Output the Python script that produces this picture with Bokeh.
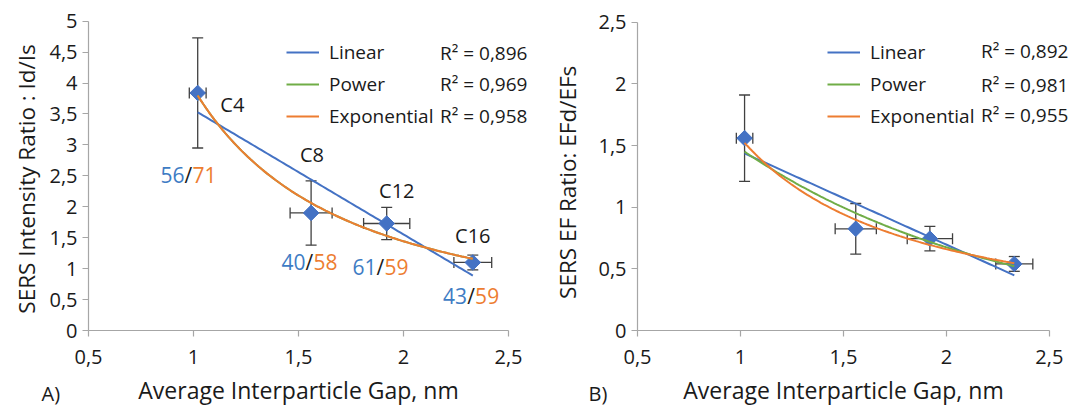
import numpy as np
from bokeh.plotting import figure
from bokeh.models import (ColumnDataSource, Whisker, TeeHead, FixedTicker, CustomJSTickFormatter,
                          Legend, LegendItem, Label, Range1d)
from bokeh.layouts import row
from bokeh.embed import file_html
from bokeh.resources import INLINE
from bokeh.core.properties import value

# ---------------- data ----------------
samples = ["C4", "C8", "C12", "C16"]
gap_nm = [1.02, 1.56, 1.92, 2.33]
gap_err = [0.04, 0.10, 0.11, 0.09]
intensity_ratio = [3.84, 1.90, 1.73, 1.10]
intensity_err = [0.89, 0.52, 0.26, 0.12]
ef_ratio = [1.56, 0.825, 0.745, 0.54]
ef_err = [0.35, 0.205, 0.10, 0.06]
count_blue = ["56", "40", "61", "43"]
count_orange = ["71", "58", "59", "59"]
fit_names = ["Linear", "Power", "Exponential"]
r2_A = ["R² = 0,896", "R² = 0,969", "R² = 0,958"]
r2_B = ["R² = 0,892", "R² = 0,981", "R² = 0,955"]
x_ticks = [0.5, 1.0, 1.5, 2.0, 2.5]
yA_ticks = [0, 0.5, 1, 1.5, 2, 2.5, 3, 3.5, 4, 4.5, 5]
yB_ticks = [0, 0.5, 1, 1.5, 2, 2.5]

# annotation placement (data coords)
name_x = [1.185, 1.564, 1.968, 2.33]
name_y = [3.66, 2.85, 2.27, 1.53]
count_x = [0.976, 1.552, 1.890, 2.322]
count_y = [2.52, 1.10, 1.02, 0.565]

BLUE = "#4472C4"
ORANGE = "#ED7D31"
GREEN = "#70AD47"
TXT_BLUE = "#3E7CC4"
TXT = "#1a1a1a"
AXIS = "#a6a6a6"
ERR = "#404040"
FONT = "Open Sans"
W = 536
H = 406


def trend(x, y):
    x = np.asarray(x, float)
    y = np.asarray(y, float)
    xs = np.linspace(x.min(), x.max(), 100)
    lin = np.polyval(np.polyfit(x, y, 1), xs)
    expo = np.exp(np.polyval(np.polyfit(x, np.log(y), 1), xs))
    powr = np.exp(np.polyval(np.polyfit(np.log(x), np.log(y), 1), np.log(xs)))
    return xs, lin, expo, powr


def make_fig(x0_px, px_x, y0_px, px_y, y_top, y_ticks, ylabel, ylab_standoff):
    # frame covers the whole canvas; axes are drawn at fixed data locations
    x_rng = Range1d(0.5 - x0_px / px_x, 0.5 + (W - x0_px) / px_x)
    y_rng = Range1d(-(H - y0_px) / px_y, y0_px / px_y)
    p = figure(width=W, height=H, output_backend="svg", toolbar_location=None,
               x_range=x_rng, y_range=y_rng,
               min_border_left=0, min_border_right=0, min_border_top=0, min_border_bottom=0)
    p.outline_line_color = None
    p.grid.visible = False
    p.background_fill_color = "white"
    p.border_fill_color = "white"
    p.xaxis.ticker = FixedTicker(ticks=x_ticks)
    p.yaxis.ticker = FixedTicker(ticks=y_ticks)
    p.xaxis.bounds = (0.5, 2.5)
    p.yaxis.bounds = (0, y_top)
    p.xaxis.fixed_location = 0
    p.yaxis.fixed_location = 0.5
    for ax in (p.xaxis[0], p.yaxis[0]):
        ax.axis_line_color = AXIS
        ax.axis_line_width = 1.2
        ax.major_tick_line_color = AXIS
        ax.major_tick_line_width = 1.2
        ax.major_tick_out = 6
        ax.major_tick_in = 0
        ax.minor_tick_line_color = None
        ax.major_label_text_font = FONT
        ax.major_label_text_font_size = "20px"
        ax.major_label_text_color = TXT
        ax.axis_label_text_font = FONT
        ax.axis_label_text_font_style = "normal"
        ax.axis_label_text_color = TXT
        ax.formatter = CustomJSTickFormatter(code="return tick.toString().replace('.', ',');")
    p.xaxis.major_label_standoff = 13
    p.yaxis.major_label_standoff = 5
    p.xaxis.axis_label = "Average Interparticle Gap, nm"
    p.xaxis.axis_label_text_font_size = "23px"
    p.xaxis.axis_label_standoff = 7
    p.yaxis.axis_label = ylabel
    p.yaxis.axis_label_text_font_size = "22.5px"
    p.yaxis.axis_label_standoff = ylab_standoff
    return p


def add_points(p, x, y, ye, xe):
    x = np.asarray(x); y = np.asarray(y); ye = np.asarray(ye); xe = np.asarray(xe)
    src = ColumnDataSource(dict(x=x, y=y, ylo=y - ye, yhi=y + ye, xlo=x - xe, xhi=x + xe))
    for dim, base, lo, hi in (("height", "x", "ylo", "yhi"), ("width", "y", "xlo", "xhi")):
        w = Whisker(source=src, base=base, lower=lo, upper=hi, dimension=dim,
                    line_color=ERR, line_width=1.3,
                    upper_head=TeeHead(size=11, line_color=ERR, line_width=1.3),
                    lower_head=TeeHead(size=11, line_color=ERR, line_width=1.3))
        w.level = "underlay"
        p.add_layout(w)
    p.scatter("x", "y", source=src, marker="square", angle=np.pi / 4, size=11,
              fill_color=BLUE, line_color=BLUE)


def add_legend(p, renderers, loc, r2, r2_x, r2_y):
    items = [LegendItem(label=n, renderers=[r]) for n, r in zip(fit_names, renderers)]
    lg = Legend(items=items, location=loc, orientation="vertical",
                glyph_width=33, glyph_height=26, label_height=26, label_standoff=10, spacing=6,
                padding=0, margin=0, border_line_color=None, background_fill_alpha=0,
                label_text_font=FONT, label_text_font_size="19px", label_text_color=TXT)
    p.add_layout(lg)
    for t, yy in zip(r2, r2_y):
        p.add_layout(Label(x=r2_x, y=yy, text=t, text_align="right", text_baseline="middle",
                           text_font=FONT, text_font_size="19px", text_color=TXT))


def add_panel_tag(p, tag, x_px):
    p.add_layout(Label(x=x_px, y=13, x_units="screen", y_units="screen", text=tag,
                       text_baseline="middle", text_font=FONT, text_font_size="20px",
                       text_color=TXT))


# ---------------- panel A ----------------
pA = make_fig(88, 210.0, 330, 61.86, 5, yA_ticks, "SERS Intensity  Ratio : Id/Is", 4)
add_points(pA, gap_nm, intensity_ratio, intensity_err, gap_err)
xsA, linA, expA, powA = trend(gap_nm, intensity_ratio)
rA_lin = pA.line(xsA, linA, line_color=BLUE, line_width=2)
rA_pow = pA.line(xsA, powA, line_color=GREEN, line_width=2)   # hidden under the orange curve
rA_exp = pA.line(xsA, powA, line_color=ORANGE, line_width=2)
add_legend(pA, [rA_lin, rA_pow, rA_exp], (286, 277), r2_A, 2.59, [4.49, 3.98, 3.47])

srcA = ColumnDataSource(dict(nx=name_x, ny=name_y, name=samples, cx=count_x, cy=count_y,
                             cb=count_blue, co=count_orange, sl=["/"] * 4))
pA.text("nx", "ny", text="name", source=srcA, text_font=value(FONT), text_font_size=value("20px"),
        text_align="center", text_baseline="middle", text_color=TXT)
pA.text("cx", "cy", text="sl", source=srcA, text_font=value(FONT), text_font_size=value("21px"),
        text_align="center", text_baseline="middle", text_color=TXT)
pA.text("cx", "cy", text="cb", source=srcA, x_offset=-4, text_font=value(FONT),
        text_font_size=value("21px"), text_align="right", text_baseline="middle", text_color=TXT_BLUE)
pA.text("cx", "cy", text="co", source=srcA, x_offset=4, text_font=value(FONT),
        text_font_size=value("21px"), text_align="left", text_baseline="middle", text_color=ORANGE)
add_panel_tag(pA, "A)", 41)

# ---------------- panel B ----------------
pB = make_fig(101, 205.9, 330, 123.3, 2.5, yB_ticks, "SERS EF  Ratio:  EFd/EFs", 12)
add_points(pB, gap_nm, ef_ratio, ef_err, gap_err)
xsB, linB, expB, powB = trend(gap_nm, ef_ratio)
rB_lin = pB.line(xsB, linB, line_color=BLUE, line_width=2)
rB_pow = pB.line(xsB, expB, line_color=GREEN, line_width=2)
rB_exp = pB.line(xsB, powB, line_color=ORANGE, line_width=2)
add_legend(pB, [rB_lin, rB_pow, rB_exp], (291, 277), r2_B, 2.593, [2.265, 1.989, 1.745])
add_panel_tag(pB, "B)", 52)

layout = row(pA, pB)
open("out.html", "w").write(file_html(layout, INLINE))
